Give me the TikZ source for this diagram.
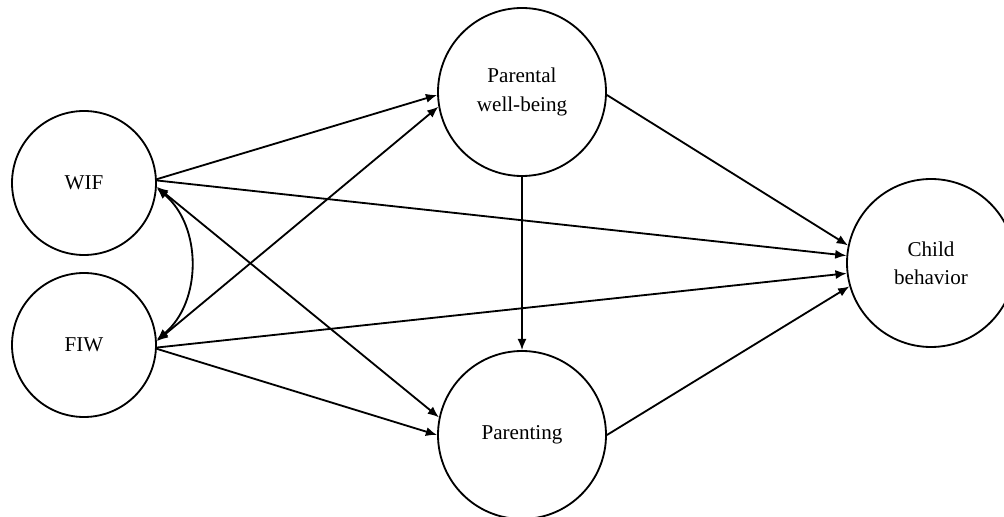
\documentclass[tikz,border=0pt]{standalone}
\usepackage{fontspec}
\setmainfont{Liberation Serif}
\usepackage{tikz}
\usetikzlibrary{arrows.meta}

\tikzset{
  latent/.style={draw,circle,line width=1.3pt,inner sep=0pt,align=center,
    font=\fontsize{15}{20}\selectfont},
  path/.style={line width=1.3pt,-{Latex[length=8pt,width=6.5pt]}},
  both/.style={line width=1.3pt,{Latex[length=8pt,width=6.5pt]}-{Latex[length=8pt,width=6.5pt]}}
}

\begin{document}
\begin{tikzpicture}[x=0.025cm,y=-0.025cm]
\useasboundingbox (0,0) rectangle (1004,517);
\node [latent,minimum size=144*0.025cm] (wif) at (84,183) {WIF};
\node [latent,minimum size=144*0.025cm] (fiw) at (84,345) {FIW};
\node [latent,minimum size=168*0.025cm] (pwb) at (522,92) {Parental\\well-being};
\node [latent,minimum size=168*0.025cm] (par) at (522,435) {Parenting};
\node [latent,minimum size=168*0.025cm] (cb) at (931,263) {Child\\behavior};
% paths from WIF and FIW
\draw [path] (wif.3)--(pwb.182);
\draw [path] (wif.2)--(cb.175);
\draw [path] (fiw.-2)--(cb.187);
\draw [path] (fiw.-3)--(par.180);
\draw [both] (wif.-3)--(par.168);
\draw [both] (fiw.3)--(pwb.190);
% covariance
\draw [both] (wif.-4) to [bend left=50] (fiw.4);
% mediators
\draw [path] (pwb.south)--(par.north);
\draw [path] (pwb.-2)--(cb.168);
\draw [path] (par.0)--(cb.196);
\end{tikzpicture}
\end{document}
